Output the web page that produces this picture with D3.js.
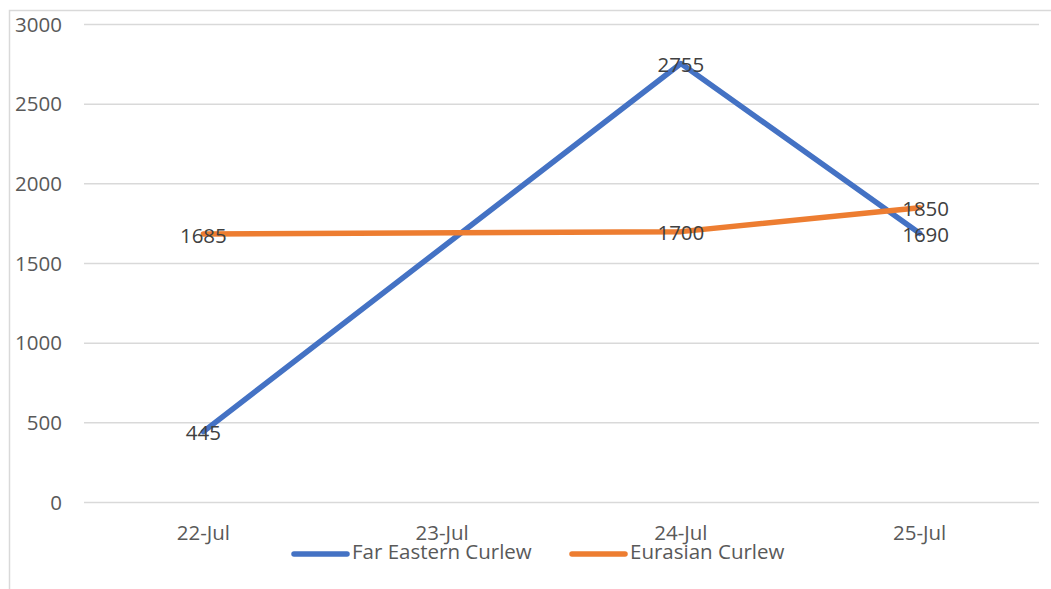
<!DOCTYPE html>
<html>
<head>
<meta charset="utf-8">
<script src="https://cdn.jsdelivr.net/npm/d3@7"></script>
<style>
  body { margin: 0; background: #fff; }
  svg { display: block; font-family: 'Open Sans', sans-serif; }
</style>
</head>
<body>
<div id="chart"></div>
<script>
// chart data
const dates = ['22-Jul', '23-Jul', '24-Jul', '25-Jul'];
const farEastern = [445, null, 2755, 1690];
const eurasian = [1685, null, 1700, 1850];
const yTicks = [0, 500, 1000, 1500, 2000, 2500, 3000];

const series = [
  { label: 'Far Eastern Curlew', color: '#4472C4', values: farEastern },
  { label: 'Eurasian Curlew', color: '#ED7D31', values: eurasian },
];

const width = 1051;
const height = 589;
const plot = { left: 84, right: 1039, top: 24.5, bottom: 502.5 };

const svg = d3.select('#chart').append('svg').attr('width', width).attr('height', height);

// outer chart border
svg.append('path')
  .attr('d', `M9.5,${height} V10.5 H${width}`)
  .attr('fill', 'none')
  .attr('stroke', '#d9d9d9')
  .attr('stroke-width', 1.5);

const x = d3.scaleBand().domain(dates).range([plot.left, plot.right]);
const y = d3.scaleLinear().domain([0, 3000]).range([plot.bottom, plot.top]);
const cx = (d) => x(d) + x.bandwidth() / 2;

// gridlines
svg.append('g')
  .selectAll('line')
  .data(yTicks)
  .join('line')
  .attr('x1', plot.left)
  .attr('x2', plot.right)
  .attr('y1', (d) => y(d))
  .attr('y2', (d) => y(d))
  .attr('stroke', '#d9d9d9')
  .attr('stroke-width', 1.5);

// y axis labels
const yAxis = d3.axisLeft(y).tickValues(yTicks).tickFormat(d3.format('d')).tickSize(0).tickPadding(0);
svg.append('g')
  .attr('transform', 'translate(62,0)')
  .call(yAxis)
  .call((g) => g.select('.domain').remove())
  .selectAll('text')
  .attr('font-family', 'Open Sans, sans-serif')
  .attr('font-size', 20.5)
  .attr('fill', '#595959');

// x axis labels
const xAxis = d3.axisBottom(x).tickSize(0).tickPadding(0);
svg.append('g')
  .attr('transform', `translate(0,${plot.bottom + 23})`)
  .call(xAxis)
  .call((g) => g.select('.domain').remove())
  .selectAll('text')
  .attr('font-family', 'Open Sans, sans-serif')
  .attr('font-size', 20.5)
  .attr('fill', '#595959');

// lines (gaps are bridged, like Excel's "connect data points")
const line = d3.line()
  .x((d) => cx(d.date))
  .y((d) => y(d.value));

const points = (s) =>
  dates.map((date, i) => ({ date, value: s.values[i] })).filter((d) => d.value != null);

series.forEach((s) => {
  svg.append('path')
    .datum(points(s))
    .attr('d', line)
    .attr('fill', 'none')
    .attr('stroke', s.color)
    .attr('stroke-width', 5.5)
    .attr('stroke-linejoin', 'round')
    .attr('stroke-linecap', 'round');
});

// data labels, centred on the points
series.forEach((s) => {
  svg.append('g')
    .selectAll('text')
    .data(points(s))
    .join('text')
    .attr('x', (d) => cx(d.date) + (d.date === '25-Jul' ? 6 : 0))
    .attr('y', (d) => y(d.value) + 3)
    .attr('text-anchor', 'middle')
    .attr('dominant-baseline', 'middle')
    .attr('font-size', 20.5)
    .attr('fill', '#404040')
    .text((d) => d.value);
});

// legend
const legend = svg.append('g').attr('transform', 'translate(0,554)');
const legendX = [292, 570];
series.forEach((s, i) => {
  const g = legend.append('g').attr('transform', `translate(${legendX[i]},0)`);
  g.append('line')
    .attr('x1', 2)
    .attr('x2', 55)
    .attr('stroke', s.color)
    .attr('stroke-width', 5.5)
    .attr('stroke-linecap', 'round');
  g.append('text')
    .attr('x', 60)
    .attr('dominant-baseline', 'middle')
    .attr('font-size', 20.5)
    .attr('fill', '#595959')
    .text(s.label);
});
</script>
</body>
</html>
